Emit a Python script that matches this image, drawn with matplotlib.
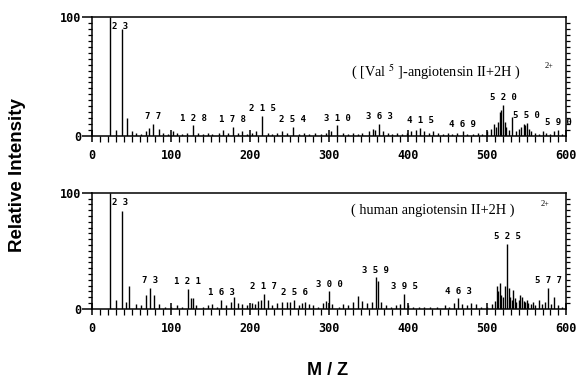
import matplotlib
matplotlib.use("Agg")
from matplotlib import pyplot as plt
from matplotlib.ticker import MultipleLocator, FixedLocator
import numpy as np

# [Val5]-angiotensin II fragment spectrum (m/z, relative intensity %)
val5_mz = [23, 30, 38, 44, 50, 56, 62, 68, 72, 77, 84, 90, 96, 102, 108, 114, 120,
           128, 134, 140, 146, 152, 160, 166, 172, 178, 184, 190, 196, 202, 208,
           215, 222, 228, 234, 240, 246, 254, 262, 268, 275, 282, 290, 296, 302,
           310, 318, 324, 330, 336, 342, 350, 355, 358, 363, 368, 374, 380, 386,
           392, 398, 404, 410, 415, 420, 426, 432, 438, 444, 450, 456, 462, 469,
           475, 482, 488, 494, 500, 505, 508, 511, 514, 516, 518, 520, 522, 524,
           527, 531, 536, 540, 543, 546, 548, 550, 553, 556, 560, 565, 570, 575,
           580, 585, 590, 595]
val5_int = [100, 5, 90, 15, 4, 3, 2, 4, 7, 10, 6, 3, 2, 4, 3, 2, 3,
            9, 3, 2, 3, 2, 3, 5, 3, 8, 3, 4, 2, 3, 4,
            17, 3, 2, 3, 4, 3, 8, 2, 3, 2, 3, 2, 3, 4,
            9, 3, 2, 3, 2, 3, 4, 6, 5, 10, 4, 3, 2, 3,
            2, 3, 4, 5, 7, 4, 3, 4, 3, 2, 3, 2, 3, 4,
            2, 2, 3, 2, 4, 6, 10, 8, 12, 20, 22, 26, 12, 8,
            5, 16, 4, 6, 8, 10, 9, 11, 6, 4, 3, 2, 4, 3,
            2, 4, 5, 2]
val5_labels = [23, 77, 128, 178, 215, 254, 310, 363, 415, 469, 520, 550, 590]

# human angiotensin II fragment spectrum
human_mz = [23, 30, 38, 43, 47, 55, 62, 68, 73, 78, 85, 92, 100, 108, 114, 121,
            125, 128, 132, 140, 146, 152, 158, 163, 170, 176, 180, 184, 190, 196,
            202, 206, 210, 214, 217, 222, 228, 234, 240, 246, 250, 256, 262, 266,
            270, 274, 280, 286, 292, 296, 300, 304, 312, 318, 324, 330, 336, 342,
            348, 354, 359, 362, 366, 372, 378, 384, 390, 395, 400, 406, 414, 420,
            428, 436, 446, 452, 458, 463, 468, 474, 480, 486, 492, 500, 506, 510,
            512, 514, 516, 518, 520, 522, 525, 527, 529, 531, 533, 535, 537, 540,
            542, 544, 546, 548, 550, 552, 555, 558, 561, 565, 569, 573, 577, 581,
            585, 590, 595]
human_int = [100, 8, 84, 6, 20, 4, 3, 12, 18, 12, 4, 2, 2, 3, 2, 17,
             9, 9, 3, 2, 3, 4, 2, 8, 3, 6, 10, 5, 4, 3,
             5, 4, 7, 8, 13, 8, 3, 5, 6, 6, 6, 8, 3, 5,
             6, 4, 3, 2, 5, 7, 15, 4, 2, 4, 3, 6, 11, 7,
             5, 6, 27, 24, 6, 3, 2, 3, 4, 13, 3, 2, 2, 2,
             2, 2, 3, 2, 5, 9, 4, 3, 5, 4, 2, 2, 4, 7,
             20, 15, 22, 12, 10, 20, 56, 18, 10, 8, 16, 9, 6, 8,
             12, 10, 7, 6, 8, 5, 4, 6, 3, 8, 4, 6, 18, 4,
             10, 3, 2]
human_labels = [23, 73, 121, 163, 217, 256, 300, 359, 395, 463, 525, 577]

plt.rcParams['mathtext.fontset'] = 'stix'
tick_font = {'family': 'DejaVu Sans Mono', 'weight': 'bold', 'size': 8.5}
serif = 'Liberation Serif'

fig = plt.figure(figsize=(5.76, 3.78), dpi=100)
ax1 = fig.add_axes([0.160, 0.640, 0.823, 0.315])
ax2 = fig.add_axes([0.160, 0.183, 0.823, 0.307])


def draw_spectrum(ax, mz, inten, labels):
    ax.vlines(mz, 0, inten, color='black', lw=1.0)
    lookup = dict(zip(mz, inten))
    for m in labels:
        txt = ' '.join(str(m))
        if m == labels[0]:
            # tallest peak, label sits beside the line near the top
            ax.text(m + 2, 92, txt, fontsize=6.5, family='DejaVu Sans Mono',
                    weight='bold', ha='left', va='center')
        else:
            ax.annotate(txt, (m, lookup[m]), xytext=(0, 2), textcoords='offset points',
                        fontsize=6.5, family='DejaVu Sans Mono', weight='bold',
                        ha='center', va='bottom')
    ax.set_xlim(0, 600)
    ax.set_ylim(0, 100)
    ax.xaxis.set_major_locator(MultipleLocator(100))
    ax.xaxis.set_minor_locator(MultipleLocator(10))
    ax.yaxis.set_major_locator(FixedLocator([0, 100]))
    ax.yaxis.set_minor_locator(MultipleLocator(5))
    ax.tick_params(axis='x', which='major', direction='inout', length=9, width=1.1, pad=5)
    ax.tick_params(axis='x', which='minor', direction='out', length=4, width=0.9)
    ax.tick_params(axis='y', which='major', direction='out', length=7, width=1.1, pad=1)
    ax.tick_params(axis='y', which='minor', direction='out', length=3, width=0.9,
                   right=True)
    for lab in ax.get_xticklabels() + ax.get_yticklabels():
        lab.set_fontproperties(tick_font)
        lab.set_fontweight('bold')
    for sp in ax.spines.values():
        sp.set_linewidth(1.1)


draw_spectrum(ax1, val5_mz, val5_int, val5_labels)
draw_spectrum(ax2, human_mz, human_int, human_labels)

ax1.text(0.545, 0.54, r"( [Val $^{5}$ ]-angiotensin II+2H )", transform=ax1.transAxes,
         family=serif, fontsize=10.3, ha='left', va='center')
ax1.text(0.955, 0.59, "2+", transform=ax1.transAxes, family=serif, fontsize=6,
         ha='left', va='center')
ax2.text(0.545, 0.85, "( human angiotensin II+2H )", transform=ax2.transAxes,
         family=serif, fontsize=10.3, ha='left', va='center')
ax2.text(0.947, 0.90, "2+", transform=ax2.transAxes, family=serif, fontsize=6,
         ha='left', va='center')

fig.text(0.031, 0.537, "Relative Intensity", rotation=90, ha='center', va='center',
         family='Liberation Sans', weight='bold', fontsize=13.5)
fig.text(0.569, 0.021, "M / Z", ha='center', va='center',
         family='Liberation Sans', weight='bold', fontsize=13)

fig.savefig("out.png", dpi=100)
